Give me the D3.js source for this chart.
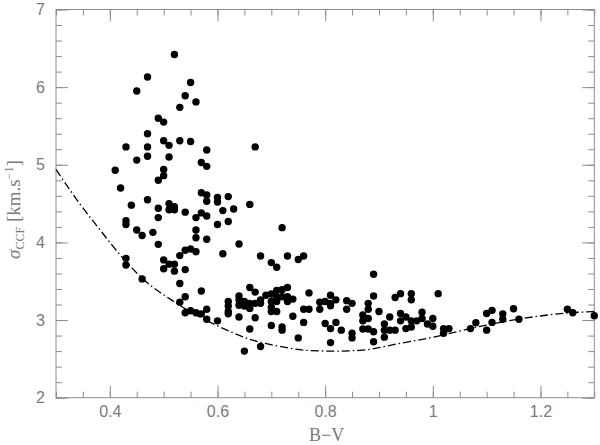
<!DOCTYPE html>
<html>
<head>
<meta charset="utf-8">
<script src="https://cdn.jsdelivr.net/npm/d3@7"></script>
<style>
  body { margin: 0; background: #ffffff; }
  svg { display: block; }
</style>
</head>
<body>
<div id="chart"></div>
<script>
// B-V colour index of each star
var bvValues = [
  0.52, 0.47, 0.45, 0.55, 0.54, 0.56, 0.53, 0.49, 0.50, 0.47, 0.43, 0.47, 0.50, 0.51, 0.53, 0.55, 0.58,
  0.45, 0.47, 0.51, 0.57, 0.58, 0.41, 0.50, 0.50, 0.49, 0.42, 0.57, 0.58, 0.60, 0.62, 0.47, 0.58, 0.60,
  0.44, 0.49, 0.51, 0.51, 0.52, 0.52, 0.54, 0.57, 0.56, 0.58, 0.61, 0.63, 0.43, 0.43, 0.45, 0.46, 0.48,
  0.49, 0.49, 0.56, 0.56, 0.58, 0.60, 0.62, 0.64, 0.53, 0.54, 0.55, 0.56, 0.61, 0.50, 0.51, 0.52, 0.50,
  0.52, 0.54, 0.43, 0.43, 0.46, 0.53, 0.57, 0.54, 0.53, 0.54, 0.55, 0.56, 0.57, 0.58, 0.58, 0.60,
  0.66, 0.67, 0.72, 0.68, 0.70, 0.71, 0.73, 0.75, 0.76,
  0.66, 0.67, 0.64, 0.62, 0.62, 0.64, 0.64, 0.65, 0.65, 0.66, 0.66, 0.67, 0.68, 0.68, 0.69, 0.70, 0.71,
  0.72, 0.73, 0.71, 0.72, 0.73, 0.74, 0.70, 0.71, 0.73, 0.70, 0.70, 0.71, 0.62, 0.64, 0.62, 0.67, 0.74,
  0.76, 0.77, 0.77, 0.76, 0.70, 0.72, 0.72, 0.66, 0.75, 0.65, 0.68, 0.79, 0.80, 0.81, 0.81, 0.82, 0.79,
  0.80, 0.82, 0.81, 0.83, 0.81,
  0.81, 0.84, 0.84, 0.85, 0.85, 0.85, 0.87, 0.87, 0.87, 0.88, 0.88, 0.88, 0.88, 0.89, 0.89, 0.89, 0.89,
  0.90, 0.91, 0.91, 0.91, 0.92, 0.92, 0.93, 0.94, 0.94, 0.94, 0.93, 0.95, 0.95, 0.96, 0.96, 0.96, 0.96,
  0.97, 0.98, 0.98, 0.99, 1.00, 1.00, 1.01, 1.02, 1.02, 1.03, 1.07, 1.08, 1.10, 1.10, 1.11, 1.11, 1.13,
  1.13, 1.15, 1.16, 1.25, 1.26, 1.30
];
// width of the cross-correlation function, km/s (same order as bvValues)
var sigmaValues = [
  6.42, 6.13, 5.95, 6.06, 5.89, 5.81, 5.74, 5.60, 5.55, 5.40, 5.23, 5.23, 5.31, 5.25, 5.31, 5.30, 5.19,
  5.06, 5.11, 5.10, 5.03, 4.98, 4.93, 4.94, 4.86, 4.80, 4.70, 4.64, 4.61, 4.58, 4.59, 4.55, 4.53, 4.52,
  4.48, 4.44, 4.50, 4.42, 4.46, 4.42, 4.39, 4.38, 4.32, 4.34, 4.41, 4.43, 4.28, 4.23, 4.16, 4.09, 4.13,
  4.32, 3.975, 4.16, 4.06, 4.04, 4.23, 4.27, 3.98, 3.83, 3.90, 3.915, 3.88, 3.855, 3.775, 3.72, 3.72, 3.66,
  3.63, 3.65, 3.795, 3.71, 3.53, 3.47, 3.375, 3.30, 3.23, 3.095, 3.12, 3.095, 3.08, 3.14, 3.01, 2.99,
  4.49, 5.23, 4.19, 3.825, 3.74, 3.68, 3.825, 3.78, 3.825,
  3.42, 3.36, 3.31, 3.24, 3.18, 3.26, 3.19, 3.24, 3.18, 3.215, 3.15, 3.215, 3.26, 3.215, 3.32, 3.335, 3.38,
  3.39, 3.42, 3.30, 3.30, 3.30, 3.27, 3.24, 3.24, 3.24, 3.165, 3.11, 3.11, 3.08, 3.04, 3.11, 3.03, 3.05,
  3.14, 3.14, 3.35, 2.97, 2.93, 2.91, 2.87, 2.885, 2.77, 2.60, 2.66, 3.23, 3.24, 3.32, 3.215, 3.26, 3.14,
  2.955, 2.97, 2.89, 2.87, 2.71,
  3.185, 3.25, 3.14, 3.215, 2.83, 2.77, 3.065, 2.99, 2.885, 3.14, 3.215, 3.02, 2.885, 3.59, 3.31, 2.85, 2.72,
  3.11, 2.95, 2.87, 2.78, 3.04, 2.87, 3.29, 3.34, 3.085, 2.99, 2.87, 3.04, 2.89, 3.34, 3.26, 2.99, 2.91,
  2.99, 3.10, 3.02, 2.95, 3.02, 2.92, 3.34, 2.89, 2.83, 2.89, 2.89, 2.965, 3.085, 2.87, 3.125, 2.97, 3.08,
  3.01, 3.145, 3.01, 3.14, 3.095, 3.055
];

// lower envelope (dash-dot curve)
var curveBV = [0.300, 0.345, 0.382, 0.419, 0.468, 0.512, 0.567, 0.605, 0.666, 0.716, 0.766, 0.815,
  0.865, 0.939, 1.001, 1.063, 1.125, 1.186, 1.248, 1.300];
var curveSigma = [4.94, 4.49, 4.16, 3.84, 3.49, 3.27, 3.04, 2.91, 2.74, 2.66, 2.61, 2.60,
  2.61, 2.70, 2.78, 2.88, 2.97, 3.04, 3.09, 3.11];

// axis ranges and labelled ticks
var xDomain = [0.3, 1.3];
var yDomain = [2, 7];
var xMajorTicks = [0.4, 0.6, 0.8, 1.0, 1.2];
var yMajorTicks = [2, 3, 4, 5, 6, 7];

var width = 600, height = 445;
var margin = { top: 9.5, right: 5.7, bottom: 47.3, left: 56 };
var plotW = width - margin.left - margin.right;
var plotH = height - margin.top - margin.bottom;
var axisColor = "#8c8c8c";
var textColor = "#7a7a7a";

var svg = d3.select("#chart").append("svg")
  .attr("width", width)
  .attr("height", height);

var g = svg.append("g")
  .attr("transform", "translate(" + margin.left + "," + margin.top + ")");

var x = d3.scaleLinear().domain(xDomain).range([0, plotW]);
var y = d3.scaleLinear().domain(yDomain).range([plotH, 0]);

// ticks point inward on all four sides, labels only bottom and left
function drawAxis(axisFn, scale, values, size, pos, labels) {
  var ax = axisFn(scale).tickValues(values).tickSizeInner(-size).tickSizeOuter(0).tickPadding(8);
  if (labels) ax.tickFormat(d3.format("~g"));
  else ax.tickFormat("");
  var sel = g.append("g").attr("transform", pos).call(ax);
  sel.select(".domain").remove();
  sel.selectAll("line").attr("stroke", axisColor);
  sel.selectAll("text")
    .attr("fill", textColor)
    .style("font-family", "'Liberation Sans', Arial, sans-serif")
    .style("font-size", "16px");
  return sel;
}

var xMinor = x.ticks(20);
var yMinor = y.ticks(25);

drawAxis(d3.axisBottom, x, xMinor, 6, "translate(0," + plotH + ")", false);
drawAxis(d3.axisTop, x, xMinor, 6, "translate(0,0)", false);
drawAxis(d3.axisLeft, y, yMinor, 6, "translate(0,0)", false);
drawAxis(d3.axisRight, y, yMinor, 6, "translate(" + plotW + ",0)", false);

drawAxis(d3.axisBottom, x, xMajorTicks, 12, "translate(0," + plotH + ")", true);
drawAxis(d3.axisTop, x, xMajorTicks, 12, "translate(0,0)", false);
drawAxis(d3.axisLeft, y, yMajorTicks, 12, "translate(0,0)", true)
  .selectAll("text").attr("x", -11);
drawAxis(d3.axisRight, y, yMajorTicks, 12, "translate(" + plotW + ",0)", false);

// frame
g.append("rect")
  .attr("width", plotW)
  .attr("height", plotH)
  .attr("fill", "none")
  .attr("stroke", axisColor)
  .attr("stroke-width", 1);

// dash-dot envelope
var line = d3.line()
  .x(function(d) { return x(d[0]); })
  .y(function(d) { return y(d[1]); })
  .curve(d3.curveMonotoneX);

g.append("path")
  .datum(d3.zip(curveBV, curveSigma))
  .attr("d", line)
  .attr("fill", "none")
  .attr("stroke", "#000")
  .attr("stroke-width", 1.3)
  .attr("stroke-dasharray", "8,3,1.5,3");

// stars
g.selectAll("circle.star")
  .data(d3.zip(bvValues, sigmaValues))
  .enter()
  .append("circle")
  .attr("class", "star")
  .attr("cx", function(d) { return x(d[0]); })
  .attr("cy", function(d) { return y(d[1]); })
  .attr("r", 3.7)
  .attr("fill", "#000");

// axis titles
svg.append("text")
  .attr("x", margin.left + plotW / 2 + 1.5)
  .attr("y", 441)
  .attr("text-anchor", "middle")
  .attr("fill", textColor)
  .style("font-family", "'Liberation Serif', 'Times New Roman', serif")
  .style("font-size", "18px")
  .text("B\u2212V");

var ylab = svg.append("text")
  .attr("transform", "translate(20," + (margin.top + plotH / 2 + 6) + ") rotate(-90)")
  .attr("text-anchor", "middle")
  .attr("fill", textColor)
  .style("font-family", "'Liberation Serif', 'Times New Roman', serif")
  .style("font-size", "19px");
ylab.append("tspan").style("font-style", "italic").text("\u03c3");
ylab.append("tspan").attr("dy", 4).style("font-size", "12px").text("CCF");
ylab.append("tspan").attr("dy", -4).text(" [km.s");
ylab.append("tspan").attr("dy", -7).style("font-size", "12px").text("\u22121");
ylab.append("tspan").attr("dy", 7).text("]");
</script>
</body>
</html>
